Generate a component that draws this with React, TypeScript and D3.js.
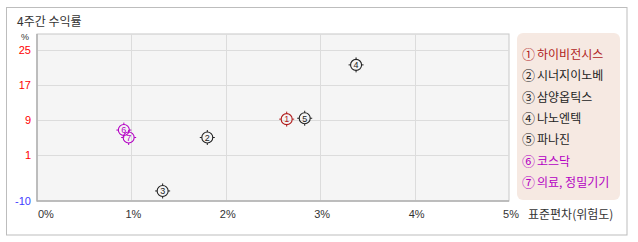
import React, { useEffect } from "react";
import * as d3 from "d3";

const title = "4주간 수익률";
const names = ["하이비전시스", "시너지이노베", "삼양옵틱스", "나노엔텍", "파나진", "코스닥", "의료, 정밀기기"];
const symbols = ["①", "②", "③", "④", "⑤", "⑥", "⑦"];
const digits = ["1", "2", "3", "4", "5", "6", "7"];
const stdDev = [2.645, 1.804, 1.331, 3.38, 2.836, 0.92, 0.971];
const returns = [9.2, 5.0, -7.6, 21.6, 9.4, 6.7, 5.0];
const colors = ["#b01c1c", "#222222", "#222222", "#222222", "#222222", "#b400c4", "#b400c4"];
const yTicks = [25, 17, 9, 1, -10];
const xTicks = [0, 1, 2, 3, 4, 5];
const xAxisTitle = "표준편차(위험도)";

const W = 638, H = 242;
const plot = { left: 37, right: 509, top: 34, bottom: 201 };

export default function App() {
  useEffect(() => {
    document.body.style.margin = "0";
  }, []);
  const x = d3.scaleLinear().domain([0, 5]).range([plot.left, plot.right]);
  const y = d3.scaleLinear().domain([-10, 1, 28.66]).range([plot.bottom, 155, plot.top]);
  const font = "'Noto Sans CJK KR', 'Noto Sans', sans-serif";
  const numFont = "'Liberation Sans', Arial, sans-serif";

  return (
    <svg width={W} height={H} style={{ display: "block", position: "absolute", left: 0, top: 0 }}>
      <rect x={0} y={0} width={W} height={H} fill="#ffffff" />
      <rect x={6.5} y={7.5} width={620.5} height={227.5} fill="#ffffff" stroke="#bdbdbd" />
      <text x={17} y={26} fontFamily={font} fontSize={12} fill="#333">{title}</text>

      <rect x={plot.left} y={plot.top} width={plot.right - plot.left} height={plot.bottom - plot.top} fill="#f5f5f5" stroke="#c8c8c8" />
      {yTicks.filter((t) => t !== -10).map((t) => (
        <line key={"gy" + t} x1={plot.left} x2={plot.right} y1={Math.round(y(t)) + 0.5} y2={Math.round(y(t)) + 0.5} stroke="#dcdcdc" />
      ))}
      {xTicks.filter((t) => t > 0 && t < 5).map((t) => (
        <line key={"gx" + t} y1={plot.top} y2={plot.bottom} x1={Math.round(x(t)) + 0.5} x2={Math.round(x(t)) + 0.5} stroke="#dcdcdc" />
      ))}
      <line x1={plot.left} x2={plot.left} y1={plot.top} y2={plot.bottom + 0.5} stroke="#b0b0b0" strokeWidth={1.5} />
      <line x1={plot.left} x2={plot.right} y1={plot.bottom} y2={plot.bottom} stroke="#b0b0b0" strokeWidth={1.5} />

      <text x={25} y={40} fontFamily={numFont} fontSize={9} fill="#333" textAnchor="middle">%</text>
      {yTicks.map((t) => (
        <text key={"ty" + t} x={31} y={y(t) + 4} fontFamily={numFont} fontSize={11} textAnchor="end" fill={t < 0 ? "#3d3dff" : "#ff0000"}>{t}</text>
      ))}
      {xTicks.map((t) => (
        <text key={"tx" + t} x={t === 0 ? x(t) + 1 : x(t) + 2} y={218} fontFamily={numFont} fontSize={11} textAnchor={t === 0 ? "start" : "middle"} fill="#333">{t + "%"}</text>
      ))}
      <text x={528} y={219} fontFamily={font} fontSize={12} fill="#333">{xAxisTitle}</text>

      {stdDev.map((sd, i) => {
        const cx = x(sd), cy = y(returns[i]);
        const c = colors[i];
        return (
          <g key={"m" + i} transform={`translate(${cx},${cy})`}>
            <circle r={5.5} fill="none" stroke={c} strokeWidth={1.1} />
            <line x1={0} x2={0} y1={-5.5} y2={-7.5} stroke={c} />
            <line x1={0} x2={0} y1={5.5} y2={7.5} stroke={c} />
            <line x1={-5.5} x2={-7.5} y1={0} y2={0} stroke={c} />
            <line x1={5.5} x2={7.5} y1={0} y2={0} stroke={c} />
            <text x={0} y={3.3} fontFamily={numFont} fontSize={9} textAnchor="middle" fill={c}>{digits[i]}</text>
          </g>
        );
      })}

      <rect x={517} y={33} width={103} height={167} rx={6} ry={6} fill="#f6e9e2" />
      {names.map((n, i) => (
        <text key={"l" + i} x={522} y={59 + i * 21.3} fontFamily={font} fontSize={12} fill={colors[i]}>
          <tspan fontSize={13}>{symbols[i]}</tspan>
          <tspan dx={2}>{n}</tspan>
        </text>
      ))}
    </svg>
  );
}
